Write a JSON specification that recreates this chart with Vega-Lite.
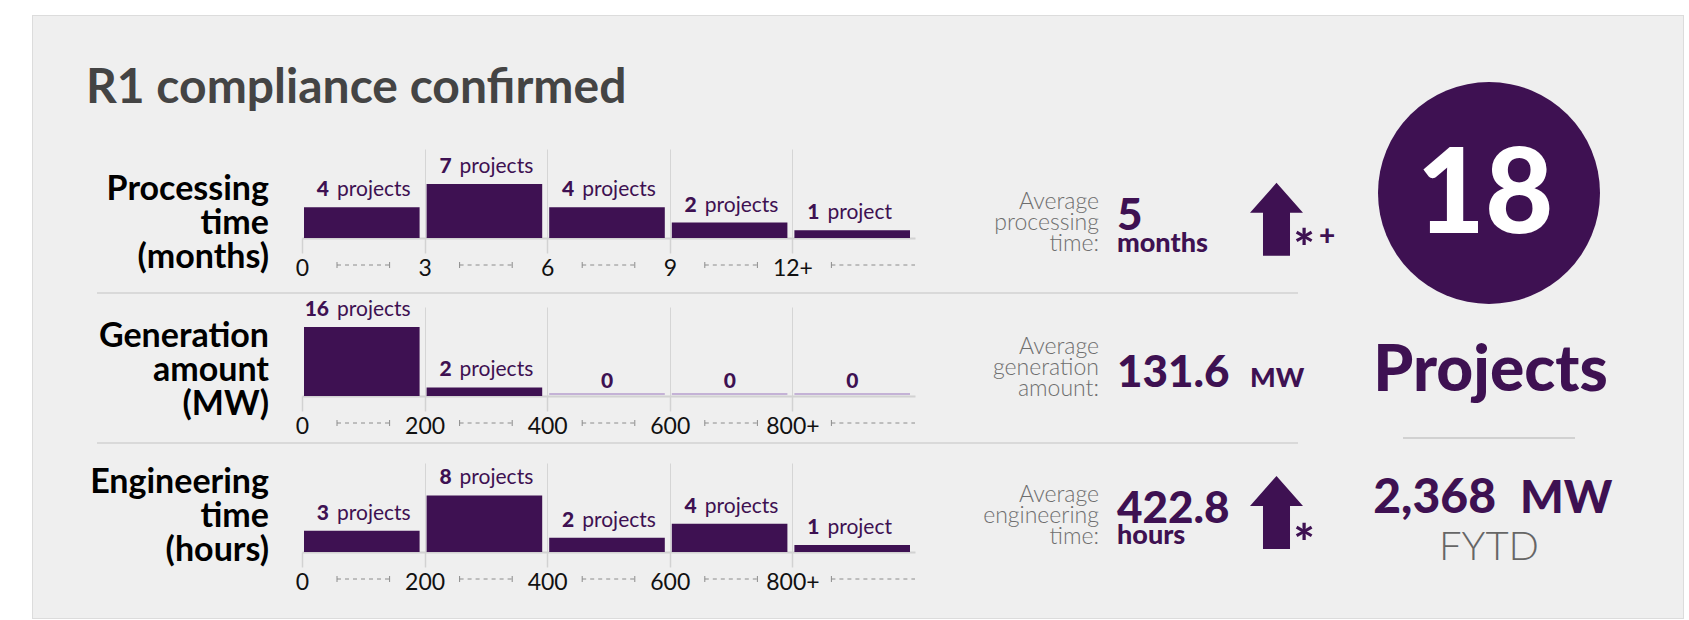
{
  "$schema": "https://vega.github.io/schema/vega-lite/v6.json",
  "padding": 0,
  "background": "#efefef",
  "config": {"view": {"stroke": null}, "font": "Lato"},
  "datasets": {
    "bins": [
      {"metric": "processing", "lo": 0, "hi": 3, "count": 4},
      {"metric": "processing", "lo": 3, "hi": 6, "count": 7},
      {"metric": "processing", "lo": 6, "hi": 9, "count": 4},
      {"metric": "processing", "lo": 9, "hi": 12, "count": 2},
      {"metric": "processing", "lo": 12, "hi": 15, "count": 1, "open": true},
      {"metric": "generation", "lo": 0, "hi": 200, "count": 16},
      {"metric": "generation", "lo": 200, "hi": 400, "count": 2},
      {"metric": "generation", "lo": 400, "hi": 600, "count": 0},
      {"metric": "generation", "lo": 600, "hi": 800, "count": 0},
      {"metric": "generation", "lo": 800, "hi": 1000, "count": 0, "open": true},
      {"metric": "engineering", "lo": 0, "hi": 200, "count": 3},
      {"metric": "engineering", "lo": 200, "hi": 400, "count": 8},
      {"metric": "engineering", "lo": 400, "hi": 600, "count": 2},
      {"metric": "engineering", "lo": 600, "hi": 800, "count": 4},
      {"metric": "engineering", "lo": 800, "hi": 1000, "count": 1, "open": true}
    ],
    "summary": [
      {"metric": "processing", "average": 5, "unit": "months", "trend": "up", "note": "*+"},
      {"metric": "generation", "average": 131.6, "unit": "MW", "trend": "none", "note": ""},
      {"metric": "engineering", "average": 422.8, "unit": "hours", "trend": "up", "note": "*"}
    ],
    "totals": [{"projects": 18, "total_mw": 2368, "period": "FYTD"}]
  },
  "columns": 11,
  "align": {"row": "each", "column": "none"},
  "bounds": "flush",
  "spacing": 0,
  "concat": [
    {"width": 32, "height": 15, "view": {"fill": "#ffffff"}, "data": {"values": []}, "mark": "text"},
    {"width": 1, "height": 15, "view": {"fill": "#ffffff"}, "data": {"values": []}, "mark": "text"},
    {"width": 269, "height": 15, "view": {"fill": "#ffffff"}, "data": {"values": []}, "mark": "text"},
    {"width": 613, "height": 15, "view": {"fill": "#ffffff"}, "data": {"values": []}, "mark": "text"},
    {"width": 190, "height": 15, "view": {"fill": "#ffffff"}, "data": {"values": []}, "mark": "text"},
    {"width": 140, "height": 15, "view": {"fill": "#ffffff"}, "data": {"values": []}, "mark": "text"},
    {"width": 95, "height": 15, "view": {"fill": "#ffffff"}, "data": {"values": []}, "mark": "text"},
    {"width": 298, "height": 15, "view": {"fill": "#ffffff"}, "data": {"values": []}, "mark": "text"},
    {"width": 45, "height": 15, "view": {"fill": "#ffffff"}, "data": {"values": []}, "mark": "text"},
    {"width": 1, "height": 15, "view": {"fill": "#ffffff"}, "data": {"values": []}, "mark": "text"},
    {"width": 5, "height": 15, "view": {"fill": "#ffffff"}, "data": {"values": []}, "mark": "text"},

    {"width": 32, "height": 1, "view": {"fill": "#ffffff"}, "data": {"values": []}, "mark": "text"},
    {"width": 1, "height": 1, "view": {"fill": "#dcdcdc"}, "data": {"values": []}, "mark": "text"},
    {"width": 269, "height": 1, "view": {"fill": "#dcdcdc"}, "data": {"values": []}, "mark": "text"},
    {"width": 613, "height": 1, "view": {"fill": "#dcdcdc"}, "data": {"values": []}, "mark": "text"},
    {"width": 190, "height": 1, "view": {"fill": "#dcdcdc"}, "data": {"values": []}, "mark": "text"},
    {"width": 140, "height": 1, "view": {"fill": "#dcdcdc"}, "data": {"values": []}, "mark": "text"},
    {"width": 95, "height": 1, "view": {"fill": "#dcdcdc"}, "data": {"values": []}, "mark": "text"},
    {"width": 298, "height": 1, "view": {"fill": "#dcdcdc"}, "data": {"values": []}, "mark": "text"},
    {"width": 45, "height": 1, "view": {"fill": "#dcdcdc"}, "data": {"values": []}, "mark": "text"},
    {"width": 1, "height": 1, "view": {"fill": "#dcdcdc"}, "data": {"values": []}, "mark": "text"},
    {"width": 5, "height": 1, "view": {"fill": "#ffffff"}, "data": {"values": []}, "mark": "text"},

    {"width": 32, "height": 133, "view": {"fill": "#ffffff"}, "data": {"values": []}, "mark": "text"},
    {"width": 1, "height": 133, "view": {"fill": "#dcdcdc"}, "data": {"values": []}, "mark": "text"},
    {"width": 269, "height": 133, "data": {"values": [{}]},
     "mark": {"type": "text", "text": "R1 compliance confirmed", "align": "left", "baseline": "alphabetic", "dx": -81.5, "dy": 20.5, "fontSize": 48, "fontWeight": 700, "color": "#444444"}},
    {"width": 613, "height": 133, "data": {"values": []}, "mark": "text"},
    {"width": 190, "height": 133, "data": {"values": []}, "mark": "text"},
    {"width": 140, "height": 133, "data": {"values": []}, "mark": "text"},
    {"width": 95, "height": 133, "data": {"values": []}, "mark": "text"},
    {"width": 298, "height": 133, "data": {"values": []}, "mark": "text"},
    {"width": 45, "height": 133, "data": {"values": []}, "mark": "text"},
    {"width": 1, "height": 133, "view": {"fill": "#dcdcdc"}, "data": {"values": []}, "mark": "text"},
    {"width": 5, "height": 133, "view": {"fill": "#ffffff"}, "data": {"values": []}, "mark": "text"},

    {"width": 32, "height": 89, "view": {"fill": "#ffffff"}, "data": {"values": []}, "mark": "text"},
    {"width": 1, "height": 89, "view": {"fill": "#dcdcdc"}, "data": {"values": []}, "mark": "text"},
    {"width": 269, "height": 89, "data": {"values": [{}]},
     "mark": {"type": "text", "text": ["Processing", "time", "(months)"], "align": "right", "baseline": "alphabetic", "dx": 101.5, "dy": 6.5, "lineHeight": 34, "fontSize": 34, "fontWeight": 700, "color": "#000000"}},
    {"width": 613, "height": 89,
     "data": {"name": "bins"},
     "transform": [{"filter": "datum.metric === 'processing'"}],
     "encoding": {"x": {"field": "lo", "type": "quantitative", "scale": {"domain": [0, 15], "nice": false, "zero": false},
       "axis": {"values": [0, 3, 6, 9, 12], "format": "d", "labelExpr": "datum.value === 12 ? '12+' : datum.label", "title": null, "grid": true, "gridColor": "#d5d5d5", "gridWidth": 1, "gridOpacity": {"condition": {"test": "datum.value === 0", "value": 0}, "value": 1}, "domainColor": "#d2d2d2", "domainWidth": 2, "tickColor": "#d2d2d2", "tickWidth": 1.5, "tickSize": 15, "labelFontSize": 23, "labelColor": "#111111", "labelPadding": 22, "labelBaseline": "alphabetic", "labelFlush": false, "labelOverlap": false, "labelBound": false}}},
     "layer": [
       {"mark": {"type": "bar", "color": "#3e1152", "xOffset": 2, "x2Offset": -5},
        "encoding": {"x2": {"field": "hi"}, "y": {"field": "count", "type": "quantitative", "scale": {"domain": [0, 11.56], "nice": false}, "axis": null}, "y2": {"datum": 0}}},
       {"transform": [{"filter": "datum.count === 0"}],
        "mark": {"type": "rule", "color": "#c4b2d6", "strokeWidth": 2, "xOffset": 2, "x2Offset": -5, "yOffset": -2},
        "encoding": {"x2": {"field": "hi"}, "y": {"datum": 0, "scale": {"domain": [0, 11.56], "nice": false}, "axis": null}}},
       {"transform": [{"filter": "datum.count > 0"}],
        "mark": {"type": "text", "align": "right", "baseline": "alphabetic", "dx": 27, "dy": -11, "fontSize": 21, "fontWeight": 900, "color": "#3e1152"},
        "encoding": {"y": {"field": "count", "type": "quantitative", "scale": {"domain": [0, 11.56], "nice": false}, "axis": null}, "text": {"field": "count", "type": "quantitative"}}},
       {"transform": [{"filter": "datum.count > 1"}],
        "mark": {"type": "text", "text": "projects", "align": "left", "baseline": "alphabetic", "dx": 35, "dy": -11, "fontSize": 21, "color": "#3e1152"},
        "encoding": {"y": {"field": "count", "type": "quantitative", "scale": {"domain": [0, 11.56], "nice": false}, "axis": null}}},
       {"transform": [{"filter": "datum.count === 1"}],
        "mark": {"type": "text", "text": "project", "align": "left", "baseline": "alphabetic", "dx": 35, "dy": -11, "fontSize": 21, "color": "#3e1152"},
        "encoding": {"y": {"field": "count", "type": "quantitative", "scale": {"domain": [0, 11.56], "nice": false}, "axis": null}}},
       {"transform": [{"filter": "datum.count === 0"}],
        "mark": {"type": "text", "align": "center", "baseline": "alphabetic", "dx": 60, "dy": -8, "fontSize": 21, "fontWeight": 900, "color": "#3e1152"},
        "encoding": {"y": {"datum": 0, "scale": {"domain": [0, 11.56], "nice": false}, "axis": null}, "text": {"field": "count", "type": "quantitative"}}},
       {"transform": [{"filter": "!datum.open"}],
        "mark": {"type": "rule", "color": "#8c8c8c", "strokeWidth": 1, "strokeDash": [4, 4], "xOffset": 35, "x2Offset": -35, "yOffset": 27},
        "encoding": {"x2": {"field": "hi"}, "y": {"datum": 0, "scale": {"domain": [0, 11.56], "nice": false}, "axis": null}}},
       {"transform": [{"filter": "datum.open"}],
        "mark": {"type": "rule", "color": "#8c8c8c", "strokeWidth": 1, "strokeDash": [4, 4], "xOffset": 39, "yOffset": 27},
        "encoding": {"x2": {"field": "hi"}, "y": {"datum": 0, "scale": {"domain": [0, 11.56], "nice": false}, "axis": null}}},
       {"transform": [{"filter": "!datum.open"}],
        "mark": {"type": "rule", "color": "#8c8c8c", "strokeWidth": 1, "xOffset": 35, "yOffset": 24, "y2Offset": 30},
        "encoding": {"y": {"datum": 0, "scale": {"domain": [0, 11.56], "nice": false}, "axis": null}, "y2": {"datum": 0}}},
       {"transform": [{"filter": "!datum.open"}],
        "mark": {"type": "rule", "color": "#8c8c8c", "strokeWidth": 1, "xOffset": 87.6, "yOffset": 24, "y2Offset": 30},
        "encoding": {"y": {"datum": 0, "scale": {"domain": [0, 11.56], "nice": false}, "axis": null}, "y2": {"datum": 0}}},
       {"transform": [{"filter": "datum.open"}],
        "mark": {"type": "rule", "color": "#8c8c8c", "strokeWidth": 1, "xOffset": 39, "yOffset": 24, "y2Offset": 30},
        "encoding": {"y": {"datum": 0, "scale": {"domain": [0, 11.56], "nice": false}, "axis": null}, "y2": {"datum": 0}}}
     ]},
    {"width": 190, "height": 89, "data": {"values": [{}]},
     "mark": {"type": "text", "text": ["Average", "processing", "time:"], "align": "right", "baseline": "alphabetic", "dx": 89, "dy": 15.5, "lineHeight": 21, "fontSize": 23, "fontWeight": 300, "color": "#6e6e6e"}},
    {"width": 140, "height": 89, "data": {"name": "summary"}, "transform": [{"filter": "datum.metric === 'processing'"}],
     "layer": [
       {"mark": {"type": "text", "align": "left", "baseline": "alphabetic", "dx": -58, "dy": 36.5, "fontSize": 44, "fontWeight": 900, "color": "#3e1152"},
        "encoding": {"text": {"field": "average", "type": "quantitative", "format": "~r"}}},
       {"mark": {"type": "text", "align": "left", "baseline": "alphabetic", "dx": -58, "dy": 58, "fontSize": 27, "fontWeight": 900, "color": "#3e1152"},
        "encoding": {"text": {"field": "unit"}}}
     ]},
    {"width": 95, "height": 89, "data": {"name": "summary"}, "transform": [{"filter": "datum.metric === 'processing'"}],
     "layer": [
       {"transform": [{"filter": "datum.trend === 'up'"}],
        "mark": {"type": "point", "shape": "M0,-1L0.726,-0.18L0.37,-0.18L0.37,1L-0.37,1L-0.37,-0.18L-0.726,-0.18Z", "size": 5329, "filled": true, "opacity": 1, "strokeWidth": 0, "color": "#3e1152", "xOffset": -16, "yOffset": 25.8}},
       {"transform": [{"filter": "datum.note === '*' || datum.note === '*+'"}],
        "mark": {"type": "text", "text": "*", "align": "left", "baseline": "alphabetic", "dx": 1, "dy": 72.5, "fontSize": 50, "fontWeight": 900, "color": "#3e1152"}},
       {"transform": [{"filter": "datum.note === '*+'"}],
        "mark": {"type": "text", "text": "+", "align": "left", "baseline": "alphabetic", "dx": 26.5, "dy": 51, "fontSize": 28, "fontWeight": 900, "color": "#3e1152"}}
     ]},
    {"width": 298, "height": 89, "data": {"name": "totals"},
     "layer": [
       {"mark": {"type": "point", "shape": "circle", "size": 49284, "filled": true, "opacity": 1, "strokeWidth": 0, "color": "#3e1152", "yOffset": -0.5}},
       {"mark": {"type": "text", "align": "center", "baseline": "alphabetic", "dx": -4, "dy": 39.5, "fontSize": 118, "fontWeight": 900, "color": "#ffffff"},
        "encoding": {"text": {"field": "projects", "type": "quantitative"}}}
     ]},
    {"width": 45, "height": 89, "data": {"values": []}, "mark": "text"},
    {"width": 1, "height": 89, "view": {"fill": "#dcdcdc"}, "data": {"values": []}, "mark": "text"},
    {"width": 5, "height": 89, "view": {"fill": "#ffffff"}, "data": {"values": []}, "mark": "text"},

    {"width": 32, "height": 69, "view": {"fill": "#ffffff"}, "data": {"values": []}, "mark": "text"},
    {"width": 1, "height": 69, "view": {"fill": "#dcdcdc"}, "data": {"values": []}, "mark": "text"},
    {"width": 269, "height": 69, "data": {"values": []}, "mark": "text"},
    {"width": 613, "height": 69, "data": {"values": [{}]},
     "mark": {"type": "point", "shape": "M-1,0L1,0", "size": 1442401, "filled": false, "opacity": 1, "stroke": "#d9d9d9", "strokeWidth": 2, "xOffset": 89, "yOffset": 20.5}},
    {"width": 190, "height": 69, "data": {"values": []}, "mark": "text"},
    {"width": 140, "height": 69, "data": {"values": []}, "mark": "text"},
    {"width": 95, "height": 69, "data": {"values": []}, "mark": "text"},
    {"width": 298, "height": 69, "data": {"values": []}, "mark": "text"},
    {"width": 45, "height": 69, "data": {"values": []}, "mark": "text"},
    {"width": 1, "height": 69, "view": {"fill": "#dcdcdc"}, "data": {"values": []}, "mark": "text"},
    {"width": 5, "height": 69, "view": {"fill": "#ffffff"}, "data": {"values": []}, "mark": "text"},

    {"width": 32, "height": 89, "view": {"fill": "#ffffff"}, "data": {"values": []}, "mark": "text"},
    {"width": 1, "height": 89, "view": {"fill": "#dcdcdc"}, "data": {"values": []}, "mark": "text"},
    {"width": 269, "height": 89, "data": {"values": [{}]},
     "mark": {"type": "text", "text": ["Generation", "amount", "(MW)"], "align": "right", "baseline": "alphabetic", "dx": 101.5, "dy": -4.5, "lineHeight": 34, "fontSize": 34, "fontWeight": 700, "color": "#000000"}},
    {"width": 613, "height": 89,
     "data": {"name": "bins"},
     "transform": [{"filter": "datum.metric === 'generation'"}],
     "encoding": {"x": {"field": "lo", "type": "quantitative", "scale": {"domain": [0, 1000], "nice": false, "zero": false},
       "axis": {"values": [0, 200, 400, 600, 800], "format": "d", "labelExpr": "datum.value === 800 ? '800+' : datum.label", "title": null, "grid": true, "gridColor": "#d5d5d5", "gridWidth": 1, "gridOpacity": {"condition": {"test": "datum.value === 0", "value": 0}, "value": 1}, "domainColor": "#d2d2d2", "domainWidth": 2, "tickColor": "#d2d2d2", "tickWidth": 1.5, "tickSize": 15, "labelFontSize": 23, "labelColor": "#111111", "labelPadding": 22, "labelBaseline": "alphabetic", "labelFlush": false, "labelOverlap": false, "labelBound": false}}},
     "layer": [
       {"mark": {"type": "bar", "color": "#3e1152", "xOffset": 2, "x2Offset": -5},
        "encoding": {"x2": {"field": "hi"}, "y": {"field": "count", "type": "quantitative", "scale": {"domain": [0, 20.65], "nice": false}, "axis": null}, "y2": {"datum": 0}}},
       {"transform": [{"filter": "datum.count === 0"}],
        "mark": {"type": "rule", "color": "#c4b2d6", "strokeWidth": 2, "xOffset": 2, "x2Offset": -5, "yOffset": -2},
        "encoding": {"x2": {"field": "hi"}, "y": {"datum": 0, "scale": {"domain": [0, 20.65], "nice": false}, "axis": null}}},
       {"transform": [{"filter": "datum.count > 0"}],
        "mark": {"type": "text", "align": "right", "baseline": "alphabetic", "dx": 27, "dy": -11, "fontSize": 21, "fontWeight": 900, "color": "#3e1152"},
        "encoding": {"y": {"field": "count", "type": "quantitative", "scale": {"domain": [0, 20.65], "nice": false}, "axis": null}, "text": {"field": "count", "type": "quantitative"}}},
       {"transform": [{"filter": "datum.count > 1"}],
        "mark": {"type": "text", "text": "projects", "align": "left", "baseline": "alphabetic", "dx": 35, "dy": -11, "fontSize": 21, "color": "#3e1152"},
        "encoding": {"y": {"field": "count", "type": "quantitative", "scale": {"domain": [0, 20.65], "nice": false}, "axis": null}}},
       {"transform": [{"filter": "datum.count === 1"}],
        "mark": {"type": "text", "text": "project", "align": "left", "baseline": "alphabetic", "dx": 35, "dy": -11, "fontSize": 21, "color": "#3e1152"},
        "encoding": {"y": {"field": "count", "type": "quantitative", "scale": {"domain": [0, 20.65], "nice": false}, "axis": null}}},
       {"transform": [{"filter": "datum.count === 0"}],
        "mark": {"type": "text", "align": "center", "baseline": "alphabetic", "dx": 60, "dy": -8, "fontSize": 21, "fontWeight": 900, "color": "#3e1152"},
        "encoding": {"y": {"datum": 0, "scale": {"domain": [0, 20.65], "nice": false}, "axis": null}, "text": {"field": "count", "type": "quantitative"}}},
       {"transform": [{"filter": "!datum.open"}],
        "mark": {"type": "rule", "color": "#8c8c8c", "strokeWidth": 1, "strokeDash": [4, 4], "xOffset": 35, "x2Offset": -35, "yOffset": 27},
        "encoding": {"x2": {"field": "hi"}, "y": {"datum": 0, "scale": {"domain": [0, 20.65], "nice": false}, "axis": null}}},
       {"transform": [{"filter": "datum.open"}],
        "mark": {"type": "rule", "color": "#8c8c8c", "strokeWidth": 1, "strokeDash": [4, 4], "xOffset": 39, "yOffset": 27},
        "encoding": {"x2": {"field": "hi"}, "y": {"datum": 0, "scale": {"domain": [0, 20.65], "nice": false}, "axis": null}}},
       {"transform": [{"filter": "!datum.open"}],
        "mark": {"type": "rule", "color": "#8c8c8c", "strokeWidth": 1, "xOffset": 35, "yOffset": 24, "y2Offset": 30},
        "encoding": {"y": {"datum": 0, "scale": {"domain": [0, 20.65], "nice": false}, "axis": null}, "y2": {"datum": 0}}},
       {"transform": [{"filter": "!datum.open"}],
        "mark": {"type": "rule", "color": "#8c8c8c", "strokeWidth": 1, "xOffset": 87.6, "yOffset": 24, "y2Offset": 30},
        "encoding": {"y": {"datum": 0, "scale": {"domain": [0, 20.65], "nice": false}, "axis": null}, "y2": {"datum": 0}}},
       {"transform": [{"filter": "datum.open"}],
        "mark": {"type": "rule", "color": "#8c8c8c", "strokeWidth": 1, "xOffset": 39, "yOffset": 24, "y2Offset": 30},
        "encoding": {"y": {"datum": 0, "scale": {"domain": [0, 20.65], "nice": false}, "axis": null}, "y2": {"datum": 0}}}
     ]},
    {"width": 190, "height": 89, "data": {"values": [{}]},
     "mark": {"type": "text", "text": ["Average", "generation", "amount:"], "align": "right", "baseline": "alphabetic", "dx": 89, "dy": 2.5, "lineHeight": 21, "fontSize": 23, "fontWeight": 300, "color": "#6e6e6e"}},
    {"width": 140, "height": 89, "data": {"name": "summary"}, "transform": [{"filter": "datum.metric === 'generation'"}],
     "layer": [
       {"mark": {"type": "text", "align": "left", "baseline": "alphabetic", "dx": -58, "dy": 35.5, "fontSize": 44, "fontWeight": 900, "color": "#3e1152"},
        "encoding": {"text": {"field": "average", "type": "quantitative", "format": "~r"}}},
       {"mark": {"type": "text", "align": "left", "baseline": "alphabetic", "dx": 75, "dy": 35.5, "fontSize": 27, "fontWeight": 900, "color": "#3e1152"},
        "encoding": {"text": {"field": "unit"}}}
     ]},
    {"width": 95, "height": 89, "data": {"name": "summary"}, "transform": [{"filter": "datum.metric === 'generation'"}],
     "layer": [
       {"transform": [{"filter": "datum.trend === 'up'"}],
        "mark": {"type": "point", "shape": "M0,-1L0.726,-0.18L0.37,-0.18L0.37,1L-0.37,1L-0.37,-0.18L-0.726,-0.18Z", "size": 5329, "filled": true, "opacity": 1, "strokeWidth": 0, "color": "#3e1152", "xOffset": -16, "yOffset": 15}}
     ]},
    {"width": 298, "height": 89, "data": {"values": [{}]},
     "mark": {"type": "text", "text": "Projects", "align": "center", "baseline": "alphabetic", "dx": 1.5, "dy": 39.5, "fontSize": 64, "fontWeight": 900, "color": "#3e1152"}},
    {"width": 45, "height": 89, "data": {"values": []}, "mark": "text"},
    {"width": 1, "height": 89, "view": {"fill": "#dcdcdc"}, "data": {"values": []}, "mark": "text"},
    {"width": 5, "height": 89, "view": {"fill": "#ffffff"}, "data": {"values": []}, "mark": "text"},

    {"width": 32, "height": 41, "view": {"fill": "#ffffff"}, "data": {"values": []}, "mark": "text"},
    {"width": 1, "height": 41, "view": {"fill": "#dcdcdc"}, "data": {"values": []}, "mark": "text"},
    {"width": 269, "height": 41, "data": {"values": []}, "mark": "text"},
    {"width": 613, "height": 41, "data": {"values": []}, "mark": "text"},
    {"width": 190, "height": 41, "data": {"values": []}, "mark": "text"},
    {"width": 140, "height": 41, "data": {"values": []}, "mark": "text"},
    {"width": 95, "height": 41, "data": {"values": []}, "mark": "text"},
    {"width": 298, "height": 41, "data": {"values": []}, "mark": "text"},
    {"width": 45, "height": 41, "data": {"values": []}, "mark": "text"},
    {"width": 1, "height": 41, "view": {"fill": "#dcdcdc"}, "data": {"values": []}, "mark": "text"},
    {"width": 5, "height": 41, "view": {"fill": "#ffffff"}, "data": {"values": []}, "mark": "text"},

    {"width": 32, "height": 26, "view": {"fill": "#ffffff"}, "data": {"values": []}, "mark": "text"},
    {"width": 1, "height": 26, "view": {"fill": "#dcdcdc"}, "data": {"values": []}, "mark": "text"},
    {"width": 269, "height": 26, "data": {"values": []}, "mark": "text"},
    {"width": 613, "height": 26, "data": {"values": [{}]},
     "mark": {"type": "point", "shape": "M-1,0L1,0", "size": 1442401, "filled": false, "opacity": 1, "stroke": "#d9d9d9", "strokeWidth": 2, "xOffset": 89, "yOffset": -7}},
    {"width": 190, "height": 26, "data": {"values": []}, "mark": "text"},
    {"width": 140, "height": 26, "data": {"values": []}, "mark": "text"},
    {"width": 95, "height": 26, "data": {"values": []}, "mark": "text"},
    {"width": 298, "height": 26, "data": {"values": [{}]},
     "mark": {"type": "point", "shape": "M-1,0L1,0", "size": 29584, "filled": false, "opacity": 1, "stroke": "#b3b3b3", "strokeWidth": 1, "yOffset": -12}},
    {"width": 45, "height": 26, "data": {"values": []}, "mark": "text"},
    {"width": 1, "height": 26, "view": {"fill": "#dcdcdc"}, "data": {"values": []}, "mark": "text"},
    {"width": 5, "height": 26, "view": {"fill": "#ffffff"}, "data": {"values": []}, "mark": "text"},

    {"width": 32, "height": 89, "view": {"fill": "#ffffff"}, "data": {"values": []}, "mark": "text"},
    {"width": 1, "height": 89, "view": {"fill": "#dcdcdc"}, "data": {"values": []}, "mark": "text"},
    {"width": 269, "height": 89, "data": {"values": [{}]},
     "mark": {"type": "text", "text": ["Engineering", "time", "(hours)"], "align": "right", "baseline": "alphabetic", "dx": 101.5, "dy": -14.5, "lineHeight": 34, "fontSize": 34, "fontWeight": 700, "color": "#000000"}},
    {"width": 613, "height": 89,
     "data": {"name": "bins"},
     "transform": [{"filter": "datum.metric === 'engineering'"}],
     "encoding": {"x": {"field": "lo", "type": "quantitative", "scale": {"domain": [0, 1000], "nice": false, "zero": false},
       "axis": {"values": [0, 200, 400, 600, 800], "format": "d", "labelExpr": "datum.value === 800 ? '800+' : datum.label", "title": null, "grid": true, "gridColor": "#d5d5d5", "gridWidth": 1, "gridOpacity": {"condition": {"test": "datum.value === 0", "value": 0}, "value": 1}, "domainColor": "#d2d2d2", "domainWidth": 2, "tickColor": "#d2d2d2", "tickWidth": 1.5, "tickSize": 15, "labelFontSize": 23, "labelColor": "#111111", "labelPadding": 22, "labelBaseline": "alphabetic", "labelFlush": false, "labelOverlap": false, "labelBound": false}}},
     "layer": [
       {"mark": {"type": "bar", "color": "#3e1152", "xOffset": 2, "x2Offset": -5},
        "encoding": {"x2": {"field": "hi"}, "y": {"field": "count", "type": "quantitative", "scale": {"domain": [0, 12.6], "nice": false}, "axis": null}, "y2": {"datum": 0}}},
       {"transform": [{"filter": "datum.count === 0"}],
        "mark": {"type": "rule", "color": "#c4b2d6", "strokeWidth": 2, "xOffset": 2, "x2Offset": -5, "yOffset": -2},
        "encoding": {"x2": {"field": "hi"}, "y": {"datum": 0, "scale": {"domain": [0, 12.6], "nice": false}, "axis": null}}},
       {"transform": [{"filter": "datum.count > 0"}],
        "mark": {"type": "text", "align": "right", "baseline": "alphabetic", "dx": 27, "dy": -11, "fontSize": 21, "fontWeight": 900, "color": "#3e1152"},
        "encoding": {"y": {"field": "count", "type": "quantitative", "scale": {"domain": [0, 12.6], "nice": false}, "axis": null}, "text": {"field": "count", "type": "quantitative"}}},
       {"transform": [{"filter": "datum.count > 1"}],
        "mark": {"type": "text", "text": "projects", "align": "left", "baseline": "alphabetic", "dx": 35, "dy": -11, "fontSize": 21, "color": "#3e1152"},
        "encoding": {"y": {"field": "count", "type": "quantitative", "scale": {"domain": [0, 12.6], "nice": false}, "axis": null}}},
       {"transform": [{"filter": "datum.count === 1"}],
        "mark": {"type": "text", "text": "project", "align": "left", "baseline": "alphabetic", "dx": 35, "dy": -11, "fontSize": 21, "color": "#3e1152"},
        "encoding": {"y": {"field": "count", "type": "quantitative", "scale": {"domain": [0, 12.6], "nice": false}, "axis": null}}},
       {"transform": [{"filter": "datum.count === 0"}],
        "mark": {"type": "text", "align": "center", "baseline": "alphabetic", "dx": 60, "dy": -8, "fontSize": 21, "fontWeight": 900, "color": "#3e1152"},
        "encoding": {"y": {"datum": 0, "scale": {"domain": [0, 12.6], "nice": false}, "axis": null}, "text": {"field": "count", "type": "quantitative"}}},
       {"transform": [{"filter": "!datum.open"}],
        "mark": {"type": "rule", "color": "#8c8c8c", "strokeWidth": 1, "strokeDash": [4, 4], "xOffset": 35, "x2Offset": -35, "yOffset": 27},
        "encoding": {"x2": {"field": "hi"}, "y": {"datum": 0, "scale": {"domain": [0, 12.6], "nice": false}, "axis": null}}},
       {"transform": [{"filter": "datum.open"}],
        "mark": {"type": "rule", "color": "#8c8c8c", "strokeWidth": 1, "strokeDash": [4, 4], "xOffset": 39, "yOffset": 27},
        "encoding": {"x2": {"field": "hi"}, "y": {"datum": 0, "scale": {"domain": [0, 12.6], "nice": false}, "axis": null}}},
       {"transform": [{"filter": "!datum.open"}],
        "mark": {"type": "rule", "color": "#8c8c8c", "strokeWidth": 1, "xOffset": 35, "yOffset": 24, "y2Offset": 30},
        "encoding": {"y": {"datum": 0, "scale": {"domain": [0, 12.6], "nice": false}, "axis": null}, "y2": {"datum": 0}}},
       {"transform": [{"filter": "!datum.open"}],
        "mark": {"type": "rule", "color": "#8c8c8c", "strokeWidth": 1, "xOffset": 87.6, "yOffset": 24, "y2Offset": 30},
        "encoding": {"y": {"datum": 0, "scale": {"domain": [0, 12.6], "nice": false}, "axis": null}, "y2": {"datum": 0}}},
       {"transform": [{"filter": "datum.open"}],
        "mark": {"type": "rule", "color": "#8c8c8c", "strokeWidth": 1, "xOffset": 39, "yOffset": 24, "y2Offset": 30},
        "encoding": {"y": {"datum": 0, "scale": {"domain": [0, 12.6], "nice": false}, "axis": null}, "y2": {"datum": 0}}}
     ]},
    {"width": 190, "height": 89, "data": {"values": [{}]},
     "mark": {"type": "text", "text": ["Average", "engineering", "time:"], "align": "right", "baseline": "alphabetic", "dx": 89, "dy": -5.5, "lineHeight": 21, "fontSize": 23, "fontWeight": 300, "color": "#6e6e6e"}},
    {"width": 140, "height": 89, "data": {"name": "summary"}, "transform": [{"filter": "datum.metric === 'engineering'"}],
     "layer": [
       {"mark": {"type": "text", "align": "left", "baseline": "alphabetic", "dx": -58, "dy": 15.5, "fontSize": 44, "fontWeight": 900, "color": "#3e1152"},
        "encoding": {"text": {"field": "average", "type": "quantitative", "format": "~r"}}},
       {"mark": {"type": "text", "align": "left", "baseline": "alphabetic", "dx": -58, "dy": 36, "fontSize": 27, "fontWeight": 900, "color": "#3e1152"},
        "encoding": {"text": {"field": "unit"}}}
     ]},
    {"width": 95, "height": 89, "data": {"name": "summary"}, "transform": [{"filter": "datum.metric === 'engineering'"}],
     "layer": [
       {"transform": [{"filter": "datum.trend === 'up'"}],
        "mark": {"type": "point", "shape": "M0,-1L0.726,-0.18L0.37,-0.18L0.37,1L-0.37,1L-0.37,-0.18L-0.726,-0.18Z", "size": 5329, "filled": true, "opacity": 1, "strokeWidth": 0, "color": "#3e1152", "xOffset": -16, "yOffset": 5}},
       {"transform": [{"filter": "datum.note === '*' || datum.note === '*+'"}],
        "mark": {"type": "text", "text": "*", "align": "left", "baseline": "alphabetic", "dx": 1, "dy": 53.5, "fontSize": 50, "fontWeight": 900, "color": "#3e1152"}},
       {"transform": [{"filter": "datum.note === '*+'"}],
        "mark": {"type": "text", "text": "+", "align": "left", "baseline": "alphabetic", "dx": 26.5, "dy": 32, "fontSize": 28, "fontWeight": 900, "color": "#3e1152"}}
     ]},
    {"width": 298, "height": 89, "data": {"name": "totals"},
     "layer": [
       {"mark": {"type": "text", "align": "right", "baseline": "alphabetic", "dx": 7, "dy": 5.5, "fontSize": 48, "fontWeight": 900, "color": "#3e1152"},
        "encoding": {"text": {"field": "total_mw", "type": "quantitative", "format": ","}}},
       {"mark": {"type": "text", "text": "MW", "align": "left", "baseline": "alphabetic", "dx": 31, "dy": 5.5, "fontSize": 46, "fontWeight": 900, "color": "#3e1152"}},
       {"mark": {"type": "text", "align": "center", "baseline": "alphabetic", "dy": 52.5, "fontSize": 40, "fontWeight": 300, "color": "#666666"},
        "encoding": {"text": {"field": "period"}}}
     ]},
    {"width": 45, "height": 89, "data": {"values": []}, "mark": "text"},
    {"width": 1, "height": 89, "view": {"fill": "#dcdcdc"}, "data": {"values": []}, "mark": "text"},
    {"width": 5, "height": 89, "view": {"fill": "#ffffff"}, "data": {"values": []}, "mark": "text"},

    {"width": 32, "height": 66, "view": {"fill": "#ffffff"}, "data": {"values": []}, "mark": "text"},
    {"width": 1, "height": 66, "view": {"fill": "#dcdcdc"}, "data": {"values": []}, "mark": "text"},
    {"width": 269, "height": 66, "data": {"values": []}, "mark": "text"},
    {"width": 613, "height": 66, "data": {"values": []}, "mark": "text"},
    {"width": 190, "height": 66, "data": {"values": []}, "mark": "text"},
    {"width": 140, "height": 66, "data": {"values": []}, "mark": "text"},
    {"width": 95, "height": 66, "data": {"values": []}, "mark": "text"},
    {"width": 298, "height": 66, "data": {"values": []}, "mark": "text"},
    {"width": 45, "height": 66, "data": {"values": []}, "mark": "text"},
    {"width": 1, "height": 66, "view": {"fill": "#dcdcdc"}, "data": {"values": []}, "mark": "text"},
    {"width": 5, "height": 66, "view": {"fill": "#ffffff"}, "data": {"values": []}, "mark": "text"},

    {"width": 32, "height": 1, "view": {"fill": "#ffffff"}, "data": {"values": []}, "mark": "text"},
    {"width": 1, "height": 1, "view": {"fill": "#dcdcdc"}, "data": {"values": []}, "mark": "text"},
    {"width": 269, "height": 1, "view": {"fill": "#dcdcdc"}, "data": {"values": []}, "mark": "text"},
    {"width": 613, "height": 1, "view": {"fill": "#dcdcdc"}, "data": {"values": []}, "mark": "text"},
    {"width": 190, "height": 1, "view": {"fill": "#dcdcdc"}, "data": {"values": []}, "mark": "text"},
    {"width": 140, "height": 1, "view": {"fill": "#dcdcdc"}, "data": {"values": []}, "mark": "text"},
    {"width": 95, "height": 1, "view": {"fill": "#dcdcdc"}, "data": {"values": []}, "mark": "text"},
    {"width": 298, "height": 1, "view": {"fill": "#dcdcdc"}, "data": {"values": []}, "mark": "text"},
    {"width": 45, "height": 1, "view": {"fill": "#dcdcdc"}, "data": {"values": []}, "mark": "text"},
    {"width": 1, "height": 1, "view": {"fill": "#dcdcdc"}, "data": {"values": []}, "mark": "text"},
    {"width": 5, "height": 1, "view": {"fill": "#ffffff"}, "data": {"values": []}, "mark": "text"},

    {"width": 32, "height": 1, "view": {"fill": "#ffffff"}, "data": {"values": []}, "mark": "text"},
    {"width": 1, "height": 1, "view": {"fill": "#ffffff"}, "data": {"values": []}, "mark": "text"},
    {"width": 269, "height": 1, "view": {"fill": "#ffffff"}, "data": {"values": []}, "mark": "text"},
    {"width": 613, "height": 1, "view": {"fill": "#ffffff"}, "data": {"values": []}, "mark": "text"},
    {"width": 190, "height": 1, "view": {"fill": "#ffffff"}, "data": {"values": []}, "mark": "text"},
    {"width": 140, "height": 1, "view": {"fill": "#ffffff"}, "data": {"values": []}, "mark": "text"},
    {"width": 95, "height": 1, "view": {"fill": "#ffffff"}, "data": {"values": []}, "mark": "text"},
    {"width": 298, "height": 1, "view": {"fill": "#ffffff"}, "data": {"values": []}, "mark": "text"},
    {"width": 45, "height": 1, "view": {"fill": "#ffffff"}, "data": {"values": []}, "mark": "text"},
    {"width": 1, "height": 1, "view": {"fill": "#ffffff"}, "data": {"values": []}, "mark": "text"},
    {"width": 5, "height": 1, "view": {"fill": "#ffffff"}, "data": {"values": []}, "mark": "text"}
  ]
}
